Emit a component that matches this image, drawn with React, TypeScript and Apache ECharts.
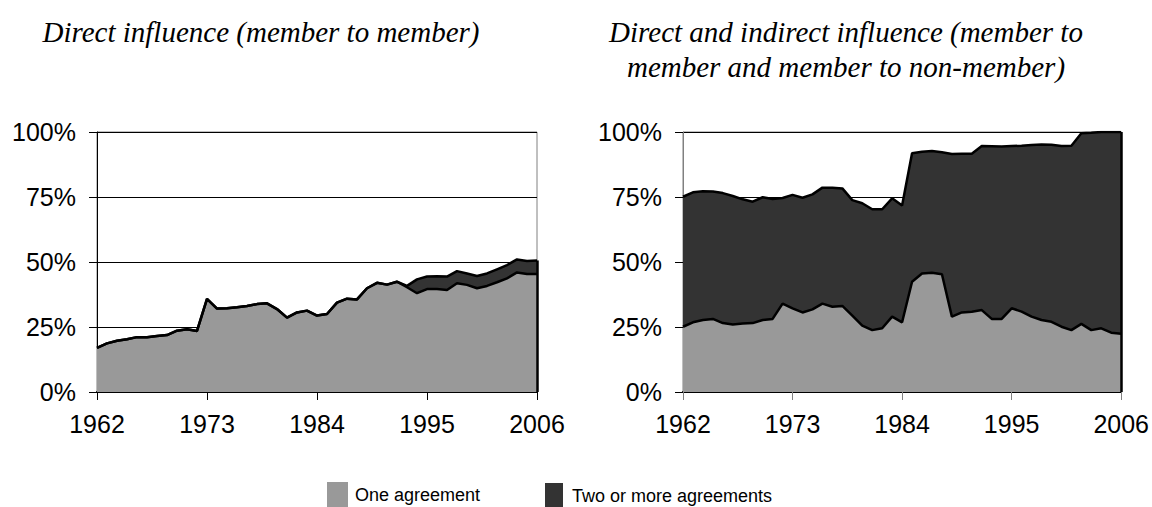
import React, { useEffect, useRef } from "react";
import * as echarts from "echarts";

const years: string[] = [];
for (let y = 1962; y <= 2006; y++) years.push(String(y));

const yTicks = [0, 25, 50, 75, 100];

// Left chart: direct influence (member to member), % of members
const leftOne = [
  17, 18.7, 19.7, 20.3, 21.1, 21.1, 21.5, 21.9, 23.6, 24.1, 23.5,
  35.8, 32.1, 32.2, 32.6, 33.1, 33.8, 34.1, 31.9, 28.6, 30.6, 31.3,
  29.4, 30, 34.4, 35.9, 35.6, 39.9, 42, 41.3, 42.4, 40.3, 38,
  39.6, 39.6, 39.2, 41.8, 41.2, 39.9, 40.8, 42.2, 43.7, 46, 45.4, 45.4,
];
const leftTwo = [
  0, 0, 0, 0, 0, 0, 0, 0, 0, 0, 0,
  0, 0, 0, 0, 0, 0, 0, 0, 0, 0, 0,
  0, 0, 0, 0, 0, 0, 0, 0, 0, 0.5, 5.3,
  4.8, 4.9, 5.2, 4.7, 4.4, 4.7, 4.8, 5.0, 5.1, 5.0, 5.0, 5.2,
];

// Right chart: direct and indirect influence
const rightOne = [
  25.1, 26.8, 27.7, 28.1, 26.5, 26, 26.3, 26.5, 27.7, 28.1, 34,
  32.2, 30.6, 31.8, 34, 32.8, 33.1, 29.4, 25.5, 23.8, 24.5, 29,
  26.8, 42.4, 45.6, 45.9, 45.3, 29, 30.6, 30.9, 31.5, 28.1, 28.1,
  32.2, 30.9, 29, 27.7, 27, 25.1, 23.8, 26.2, 23.8, 24.5, 22.8, 22.4,
];
const rightTwo = [
  50.0, 50.0, 49.5, 49.0, 50.0, 49.4, 47.8, 46.7, 47.2, 46.1, 40.6,
  43.6, 44.1, 44.2, 44.6, 45.8, 45.2, 44.4, 47.1, 46.5, 45.8, 45.5,
  44.9, 49.4, 46.8, 46.8, 46.9, 62.5, 61.0, 60.7, 63.1, 66.4, 66.3,
  62.4, 63.8, 66.0, 67.5, 68.1, 69.5, 70.9, 73.3, 75.9, 75.5, 77.2, 77.6,
];

const seriesNames = ["One agreement", "Two or more agreements"];
const titleLeft = "Direct influence (member to member)";
const titleRight1 = "Direct and indirect influence (member to";
const titleRight2 = "member and member to non-member)";

const LIGHT = "#999999";
const DARK = "#333333";
const SANS = '"Liberation Sans", Arial, sans-serif';
const SERIF = '"Liberation Serif", "Times New Roman", serif';

function xAxis(gridIndex: number, color: string) {
  return {
    type: "category",
    gridIndex,
    data: years,
    boundaryGap: false,
    axisLine: { show: true, lineStyle: { color: "#000", width: 2 } },
    axisTick: { show: true, interval: 10, length: 8, lineStyle: { color } },
    axisLabel: {
      interval: 10,
      margin: 19,
      fontSize: 25,
      fontFamily: SANS,
      color: "#000",
    },
    splitLine: { show: false },
  };
}

function yAxis(gridIndex: number, color: string) {
  return {
    type: "value",
    gridIndex,
    min: 0,
    max: 100,
    interval: 25,
    axisLine: { show: true, lineStyle: { color, width: 1 } },
    axisTick: { show: true, length: 8, lineStyle: { color: "#000" } },
    axisLabel: {
      formatter: (v: number) => (yTicks.includes(v) ? v + "%" : ""),
      margin: 21,
      fontSize: 25,
      fontFamily: SANS,
      color: "#000",
    },
    splitLine: { show: true, lineStyle: { color: "#000", width: 1 } },
  };
}

function areaSeries(
  name: string,
  data: number[],
  idx: number,
  stack: string,
  color: string,
  edge?: number
) {
  const s: any = {
    name,
    type: "line",
    xAxisIndex: idx,
    yAxisIndex: idx,
    stack,
    data,
    symbol: "none",
    itemStyle: { color },
    lineStyle: { color: "#000", width: 2.5 },
    areaStyle: { color, opacity: 1 },
    z: 3,
  };
  if (edge !== undefined) {
    const last = years.length - 1;
    s.markLine = {
      silent: true,
      symbol: "none",
      label: { show: false },
      lineStyle: { color: "#000", width: 2.5, type: "solid" },
      data: [[{ coord: [last, 0] }, { coord: [last, edge] }]],
    };
  }
  return s;
}

export default function App() {
  const ref = useRef<HTMLDivElement>(null);
  useEffect(() => {
    if (!ref.current) return;
    const chart = echarts.init(ref.current, null, { renderer: "svg" });
    const last = years.length - 1;
    const titleStyle = {
      fill: "#000",
      font: `italic 29px ${SERIF}`,
      textAlign: "center",
      textVerticalAlign: "middle",
      align: "center",
      verticalAlign: "middle",
    };
    chart.setOption({
      animation: false,
      backgroundColor: "#fff",
      grid: [
        { left: 97, right: 615, top: 132, bottom: 115, show: true, borderColor: "#808080", borderWidth: 1 },
        { left: 683, right: 30, top: 132, bottom: 115, show: true, borderColor: "#808080", borderWidth: 1 },
      ],
      xAxis: [xAxis(0, "#000"), xAxis(1, "#808080")],
      yAxis: [yAxis(0, "#000"), yAxis(1, "#808080")],
      legend: [
        {
          data: [seriesNames[0]],
          left: 327,
          top: 482,
          padding: 0,
          icon: "rect",
          itemWidth: 21,
          itemHeight: 25,
          selectedMode: false,
          itemStyle: { borderWidth: 0 },
          lineStyle: { width: 0 },
          textStyle: { fontSize: 18, fontFamily: SANS, color: "#000", padding: [0, 0, 0, 2] },
        },
        {
          data: [seriesNames[1]],
          left: 545,
          top: 483,
          padding: 0,
          icon: "rect",
          itemWidth: 18,
          itemHeight: 25,
          selectedMode: false,
          itemStyle: { borderWidth: 0 },
          lineStyle: { width: 0 },
          textStyle: { fontSize: 18, fontFamily: SANS, color: "#000", padding: [0, 0, 8, 4] },
        },
      ],
      graphic: [
        { type: "text", style: { ...titleStyle, text: titleLeft, x: 261, y: 32 } },
        { type: "text", style: { ...titleStyle, text: titleRight1, x: 846, y: 32 } },
        { type: "text", style: { ...titleStyle, text: titleRight2, x: 846, y: 67 } },
      ],
      series: [
        areaSeries(seriesNames[0], leftOne, 0, "L", LIGHT),
        areaSeries(seriesNames[1], leftTwo, 0, "L", DARK, leftOne[last] + leftTwo[last]),
        areaSeries(seriesNames[0], rightOne, 1, "R", LIGHT),
        areaSeries(seriesNames[1], rightTwo, 1, "R", DARK, rightOne[last] + rightTwo[last]),
      ],
    });
    return () => chart.dispose();
  }, []);
  return (
    <div
      ref={ref}
      style={{ position: "fixed", left: 0, top: 0, width: 1152, height: 507 }}
    />
  );
}
